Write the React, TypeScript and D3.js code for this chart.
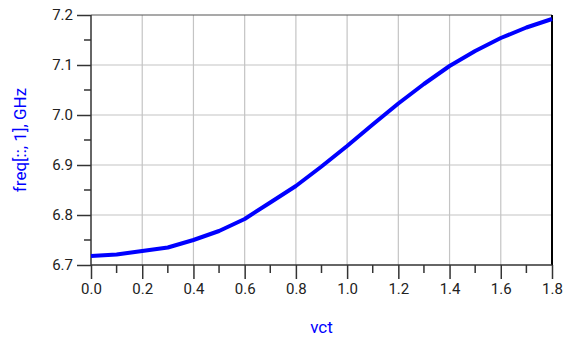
import * as d3 from 'd3';
import { useEffect, useRef } from 'react';

// vct sweep and the first-column frequency (GHz)
const vct = [0.0, 0.1, 0.2, 0.3, 0.4, 0.5, 0.6, 0.7, 0.8, 0.9, 1.0, 1.1, 1.2, 1.3, 1.4, 1.5, 1.6, 1.7, 1.8];
const freq = [6.718, 6.721, 6.728, 6.735, 6.750, 6.768, 6.792, 6.825, 6.858, 6.897, 6.938, 6.981, 7.023, 7.062, 7.098, 7.128, 7.154, 7.175, 7.192];

const xTicks = [0.0, 0.2, 0.4, 0.6, 0.8, 1.0, 1.2, 1.4, 1.6, 1.8];
const xMinor = [0.1, 0.3, 0.5, 0.7, 0.9, 1.1, 1.3, 1.5, 1.7];
const yTicks = [6.7, 6.8, 6.9, 7.0, 7.1, 7.2];
const yMinor = [6.75, 6.85, 6.95, 7.05, 7.15];

const W = 565;
const H = 343;
const FONT = 'Roboto, "Liberation Sans", sans-serif';

export default function App() {
    const ref = useRef<SVGSVGElement>(null);

    useEffect(() => {
        const margin = { top: 15, right: 13, bottom: 78, left: 91 };
        const width = W - margin.left - margin.right;
        const height = H - margin.top - margin.bottom;

        const svg = d3.select(ref.current);
        svg.selectAll('*').remove();

        const g = svg.append('g')
            .attr('transform', `translate(${margin.left},${margin.top})`);

        const x = d3.scaleLinear().domain([0, 1.8]).range([0, width]);
        const y = d3.scaleLinear().domain([6.7, 7.2]).range([height, 0]);

        // grid
        g.append('g')
            .selectAll('line')
            .data(xTicks.slice(1, -1))
            .join('line')
            .attr('x1', d => x(d)).attr('x2', d => x(d))
            .attr('y1', 0).attr('y2', height)
            .attr('stroke', '#c4c4c4').attr('stroke-width', 1.2);
        g.append('g')
            .selectAll('line')
            .data(yTicks.slice(1, -1))
            .join('line')
            .attr('x1', 0).attr('x2', width)
            .attr('y1', d => y(d)).attr('y2', d => y(d))
            .attr('stroke', '#c4c4c4').attr('stroke-width', 1.2);

        // top and right border
        g.append('line')
            .attr('x1', 0).attr('x2', width).attr('y1', 0).attr('y2', 0)
            .attr('stroke', '#555').attr('stroke-width', 1.2);
        g.append('line')
            .attr('x1', width).attr('x2', width).attr('y1', 0).attr('y2', height)
            .attr('stroke', '#000').attr('stroke-width', 2);

        // x axis
        const xAxis = g.append('g')
            .attr('transform', `translate(0,${height})`)
            .call(d3.axisBottom(x).tickValues(xTicks).tickSize(14).tickPadding(4).tickFormat(d3.format('.1f')));
        xAxis.selectAll('line,path').attr('stroke', '#333').attr('stroke-width', 1.5);
        xAxis.select('.domain').attr('d', `M0,0H${width}`);
        xAxis.selectAll('text').attr('font-size', 15).attr('fill', '#222').attr('font-family', FONT);
        xAxis.append('g').selectAll('line')
            .data(xMinor).join('line')
            .attr('x1', d => x(d)).attr('x2', d => x(d))
            .attr('y1', 0).attr('y2', 8)
            .attr('stroke', '#333').attr('stroke-width', 1.5);

        // y axis
        const yAxis = g.append('g')
            .call(d3.axisLeft(y).tickValues(yTicks).tickSize(14).tickPadding(4).tickFormat(d3.format('.1f')));
        yAxis.selectAll('line,path').attr('stroke', '#333').attr('stroke-width', 1.5);
        yAxis.select('.domain').attr('d', `M0,${height}V0`);
        yAxis.selectAll('text').attr('font-size', 15).attr('fill', '#222').attr('font-family', FONT);
        yAxis.append('g').selectAll('line')
            .data(yMinor).join('line')
            .attr('x1', -7).attr('x2', 0)
            .attr('y1', d => y(d)).attr('y2', d => y(d))
            .attr('stroke', '#333').attr('stroke-width', 1.5);

        // curve, straight segments between the sweep points
        const line = d3.line<number>()
            .x((_, i) => x(vct[i]))
            .y(d => y(d));
        g.append('path')
            .datum(freq)
            .attr('d', line)
            .attr('fill', 'none')
            .attr('stroke', '#0000ff')
            .attr('stroke-width', 4)
            .attr('stroke-linejoin', 'round');

        // labels
        svg.append('text')
            .attr('x', margin.left + width / 2)
            .attr('y', 333)
            .attr('text-anchor', 'middle')
            .attr('font-family', FONT)
            .attr('font-size', 17)
            .attr('fill', '#0000ff')
            .text('vct');
        svg.append('text')
            .attr('transform', `translate(26,${margin.top + height / 2}) rotate(-90)`)
            .attr('text-anchor', 'middle')
            .attr('font-family', FONT)
            .attr('font-size', 17)
            .attr('fill', '#0000ff')
            .text('freq[::, 1], GHz');
    }, []);

    return (
        <svg ref={ref} width={W} height={H}
            style={{ position: 'absolute', left: 0, top: 0, background: '#fff' }} />
    );
}
